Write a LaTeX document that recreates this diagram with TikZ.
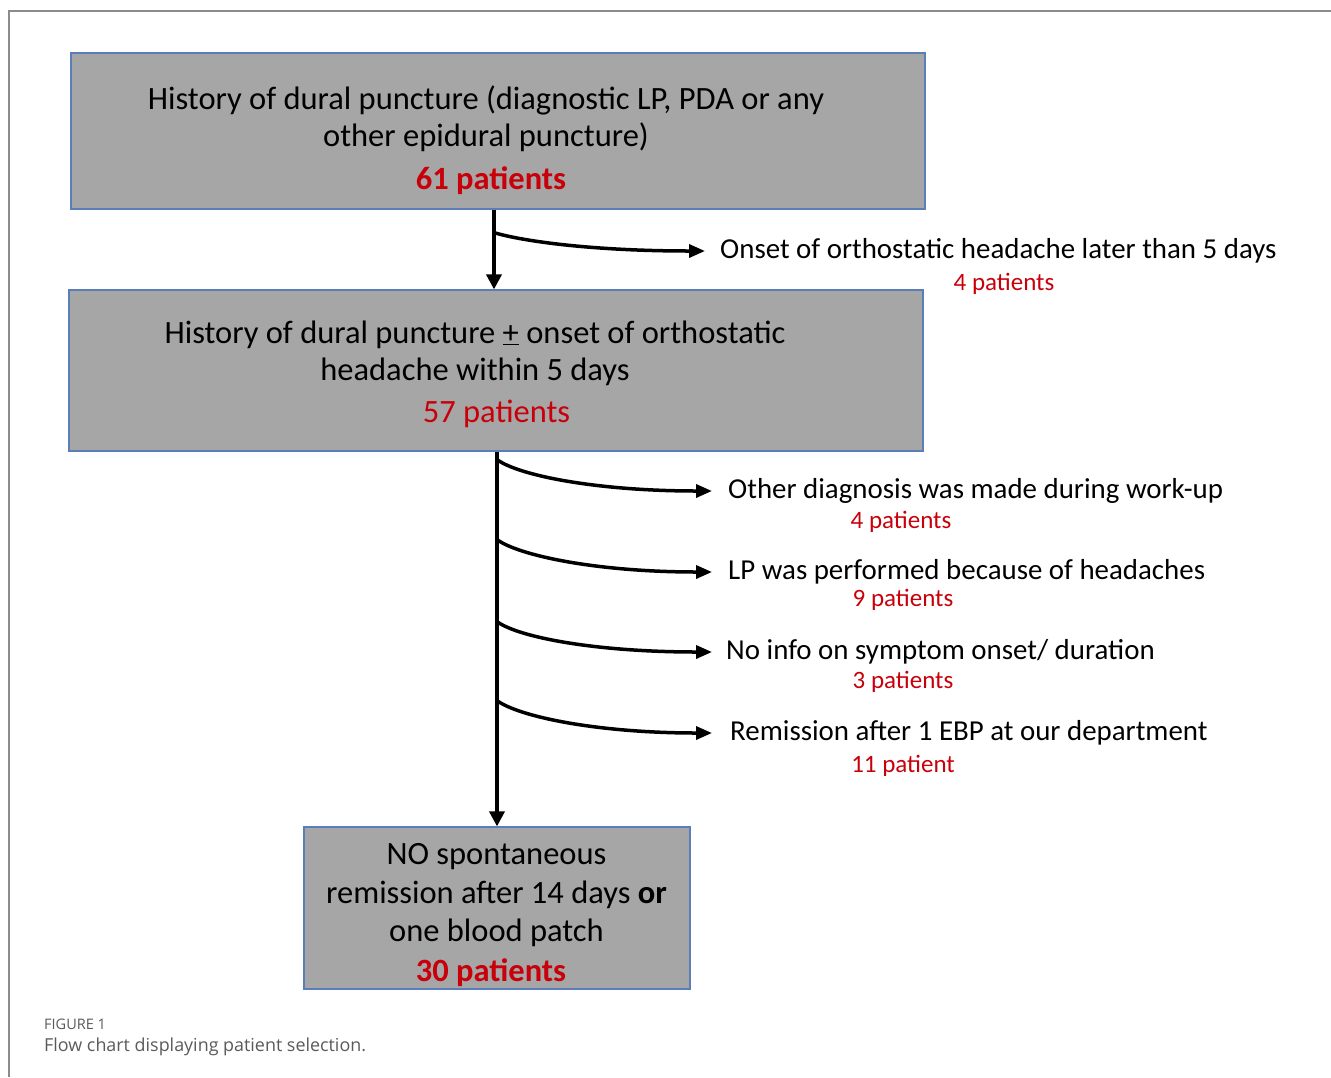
\documentclass[tikz,border=0pt]{standalone}
\usepackage{fontspec}
\setmainfont{Carlito}
\newfontfamily\capfont{Open Sans}
\usetikzlibrary{arrows.meta}
\definecolor{boxgray}{HTML}{A6A6A6}
\definecolor{boxedge}{HTML}{5B7DB8}
\definecolor{numred}{HTML}{C8000A}
\definecolor{framegray}{HTML}{8C8C8C}
\definecolor{captext}{HTML}{5A5A5A}
\begin{document}
\begin{tikzpicture}[x=1pt,y=-1pt,
  box/.style={draw=boxedge,line width=1.2pt,fill=boxgray,inner sep=0pt},
  boxtext/.style={align=center,font=\fontsize{32.5}{37}\selectfont,inner sep=0pt},
  boxcount/.style={text=numred,font=\fontsize{32.5}{37}\selectfont,inner sep=0pt},
  sidetext/.style={anchor=west,font=\fontsize{28.9}{32}\selectfont,inner sep=0pt},
  count/.style={text=numred,font=\fontsize{25}{28}\selectfont,inner sep=0pt},
  flow/.style={line width=3.5pt,-{Triangle[length=15pt,width=15pt]}},
  branch/.style={line width=3.5pt,-{Triangle[length=16pt,width=13pt]}},
]
\useasboundingbox (0,0) rectangle (1331,1077);

% outer frame (top and left rules)
\draw[framegray,line width=1.2pt] (1331,11) -- (9,11) -- (9,1077);

% boxes
\node[box,minimum width=854,minimum height=156] (b1) at (498,131) {};
\node[box,minimum width=854,minimum height=161] (b2) at (496,370.5) {};
\node[box,minimum width=386,minimum height=162] (b3) at (497,908) {};

% box texts
\node[boxtext] (t1) at (486,118.5) {History of dural puncture (diagnostic LP, PDA or any\\other epidural puncture)};
\node[boxcount,font=\fontsize{32.5}{37}\selectfont\bfseries] (c1) at (491,181) {61 patients};
\node[boxtext] (t2) at (475,353) {History of dural puncture \underline{+} onset of orthostatic\\headache within 5 days};
\node[boxcount] (c2) at (496.5,414) {57 patients};
\node[boxtext,font=\fontsize{32.5}{38.5}\selectfont] (t3) at (496.5,895.5) {NO spontaneous\\remission after 14 days \textbf{or}\\one blood patch};
\node[boxcount,font=\fontsize{32.5}{37}\selectfont\bfseries] (c3) at (491,973) {30 patients};

% side texts
\node[sidetext] (o1) at (720,251) {Onset of orthostatic headache later than 5 days};
\node[count] (n1) at (1004,284) {4 patients};
\node[sidetext] (s1) at (728,491) {Other diagnosis was made during work-up};
\node[count] (n2) at (901,522) {4 patients};
\node[sidetext] (s2) at (728,572) {LP was performed because of headaches};
\node[count] (n3) at (903,600) {9 patients};
\node[sidetext] (s3) at (726,652) {No info on symptom onset/ duration};
\node[count] (n4) at (903,682) {3 patients};
\node[sidetext] (s4) at (730,733) {Remission after 1 EBP at our department};
\node[count] (n5) at (903,766) {11 patient};

% trunk coordinates
\path (b2.north) ++(-2,0) coordinate (in2);
\path (b3.north) coordinate (in3);
\path (b1.south -| in2) ++(0,23) coordinate (j0);
\path (b2.south -| in3) ++(0,8) coordinate (j1);
\path (j1) ++(0,80) coordinate (j2);
\path (j1) ++(0,162) coordinate (j3);
\path (j1) ++(0,241) coordinate (j4);

% main flow
\draw[flow] (b1.south -| in2) -- (in2);
\draw[flow] (b2.south -| in3) -- (in3);

% exclusions
\draw[branch] (j0) .. controls +(30,9) and +(-110,0) .. ([xshift=-15]o1.west);
\draw[branch] (j1) .. controls +(22,16) and +(-115,0) .. ([xshift=-16]s1.west);
\draw[branch] (j2) .. controls +(22,16) and +(-115,0) .. ([xshift=-16]s2.west);
\draw[branch] (j3) .. controls +(22,16) and +(-115,0) .. ([xshift=-14]s3.west);
\draw[branch] (j4) .. controls +(22,16) and +(-115,0) .. ([xshift=-18]s4.west);

% caption
\node[anchor=west,inner sep=0pt,text=captext,font=\capfont\fontsize{14.5}{16}\selectfont] (fig) at (44,1024) {FIGURE 1};
\node[anchor=west,inner sep=0pt,text=captext,font=\capfont\fontsize{17.9}{20}\selectfont] (cap) at (44,1047) {Flow chart displaying patient selection.};
\end{tikzpicture}
\end{document}
